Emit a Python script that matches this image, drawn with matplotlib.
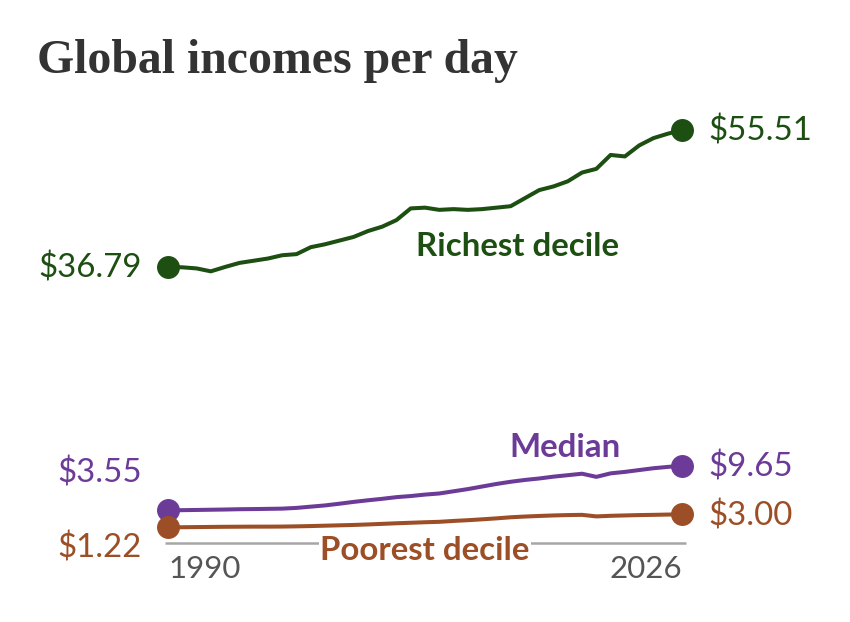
import matplotlib
matplotlib.use("Agg")
import matplotlib.pyplot as plt

# data
years = list(range(1990, 2027))
richest = [36.79, 36.75, 36.6, 36.2, 36.8, 37.35, 37.65, 37.95, 38.4, 38.55,
           39.5, 39.9, 40.4, 40.9, 41.7, 42.3, 43.2, 44.8, 44.9, 44.6,
           44.7, 44.6, 44.7, 44.9, 45.1, 46.2, 47.3, 47.8, 48.5, 49.7,
           50.2, 52.1, 51.9, 53.4, 54.4, 55.0, 55.51]
median = [3.55, 3.57, 3.60, 3.63, 3.66, 3.70, 3.72, 3.75, 3.78, 3.88,
          4.05, 4.22, 4.45, 4.70, 4.92, 5.12, 5.35, 5.50, 5.70, 5.85,
          6.15, 6.45, 6.80, 7.15, 7.45, 7.70, 7.90, 8.15, 8.35, 8.55,
          8.12, 8.60, 8.80, 9.05, 9.30, 9.48, 9.65]
poorest = [1.22, 1.24, 1.26, 1.28, 1.30, 1.31, 1.32, 1.32, 1.33, 1.36,
           1.40, 1.45, 1.50, 1.55, 1.62, 1.70, 1.78, 1.85, 1.92, 1.98,
           2.10, 2.20, 2.32, 2.45, 2.60, 2.70, 2.78, 2.85, 2.90, 2.93,
           2.72, 2.80, 2.85, 2.90, 2.93, 2.97, 3.00]

series_names = ["Richest decile", "Median", "Poorest decile"]
colors = ["#1d4f12", "#6c3b98", "#9c4f26"]
gray = "#a6a6a6"
label_gray = "#555555"

W, H = 850, 622
fig = plt.figure(figsize=(W / 100, H / 100), dpi=100)
# axes placed so that 1990..2026 spans x 168..682 px and $0 sits at y 536 px
ax = fig.add_axes([168 / W, (H - 536.3) / H, 514 / W, (536.3 - 130) / H])
ax.set_xlim(1990, 2026)
ax.set_ylim(0, 55.51)
ax.axis("off")

# baseline
ax.plot([1989.8, 2026.3], [-0.95, -0.95], color=gray, lw=1.8, clip_on=False,
        solid_capstyle="butt", zorder=1)

for vals, c in zip([richest, median, poorest], colors):
    ax.plot(years, vals, color=c, lw=2.9, clip_on=False, zorder=3,
            solid_joinstyle="round")
    ax.plot([years[0], years[-1]], [vals[0], vals[-1]], "o", color=c, ms=15.5,
            clip_on=False, zorder=4)

fs = 23.8
px = 0.72  # points per pixel


def val_label(x, y, txt, c, dx, dy, ha):
    ax.annotate(txt, (x, y), xytext=(dx * px, dy * px), textcoords="offset points",
                ha=ha, va="center", fontsize=fs, color=c, family="Lato",
                annotation_clip=False)


val_label(1990, richest[0], f"${richest[0]:.2f}", colors[0], -26, -1, "right")
val_label(2026, richest[-1], f"${richest[-1]:.2f}", colors[0], 26, -1, "left")
val_label(1990, median[0], f"${median[0]:.2f}", colors[1], -26, 37, "right")
val_label(2026, median[-1], f"${median[-1]:.2f}", colors[1], 26, -1, "left")
val_label(1990, poorest[0], f"${poorest[0]:.2f}", colors[2], -26, -21, "right")
val_label(2026, poorest[-1], f"${poorest[-1]:.2f}", colors[2], 26, -2, "left")

# series names
ax.text(2014.5, 39.6, series_names[0], color=colors[0], fontsize=fs,
        family="Lato", weight="bold", ha="center", va="center")
ax.text(2017.8, 12.2, series_names[1], color=colors[1], fontsize=fs,
        family="Lato", weight="bold", ha="center", va="center")
ax.text(2008.0, -1.9, series_names[2], color=colors[2], fontsize=fs,
        family="Lato", weight="bold", ha="center", va="center", zorder=2,
        bbox=dict(facecolor="white", edgecolor="none", pad=1))

# year labels
ax.annotate("1990", (1990, -0.95), xytext=(0, -26 * px), textcoords="offset points",
            ha="left", va="center", fontsize=22.5, color=label_gray, family="Lato",
            annotation_clip=False)
ax.annotate("2026", (2026, -0.95), xytext=(0, -26 * px), textcoords="offset points",
            ha="right", va="center", fontsize=22.5, color=label_gray, family="Lato",
            annotation_clip=False)

# title, fitted to the reference width
title = fig.text(37 / W, 1 - 73.3 / H, "Global incomes per day", fontsize=32,
                 family="Liberation Serif", weight="bold", color="#333333",
                 ha="left", va="baseline")
fig.canvas.draw()
w = title.get_window_extent().width
title.set_fontsize(32 * 481 / w)

fig.savefig("out.png", dpi=100, facecolor="white")
